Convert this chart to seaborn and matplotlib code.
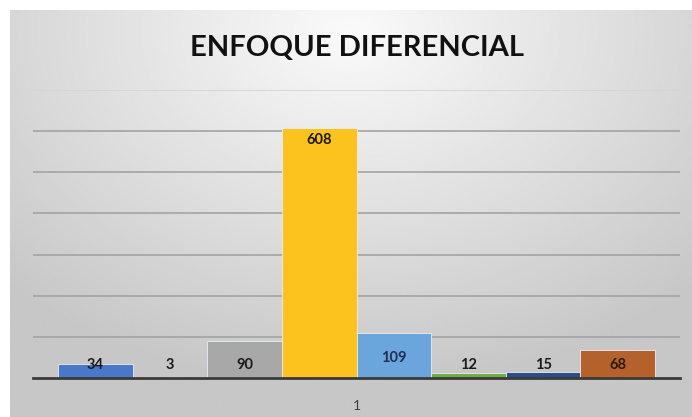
import numpy as np
import pandas as pd
import matplotlib.pyplot as plt
import seaborn as sns

# chart data
series = ['Serie 1', 'Serie 2', 'Serie 3', 'Serie 4', 'Serie 5', 'Serie 6', 'Serie 7', 'Serie 8']
values = [34, 3, 90, 608, 109, 12, 15, 68]
category = '1'
colors = ['#4a78c8', '#ED7D31', '#A8A8A8', '#FCC21E', '#6aa5dc', '#70AD47', '#2f4d85', '#B5612B']
label_colors = ['#1a1a1a', '#1a1a1a', '#1a1a1a', '#1a1a1a', '#1f2f55', '#1a1a1a', '#1a1a1a', '#2a1a10']

df = pd.DataFrame({'cat': [category] * len(values), 'serie': series, 'valor': values})

sns.set_style('white')
plt.rcParams['font.family'] = ['Lato', 'DejaVu Sans']

fig = plt.figure(figsize=(6.92, 4.17), dpi=100)
fig.patch.set_facecolor('white')

# gray radial gradient behind the chart (Excel style)
bg = fig.add_axes([10 / 692, 0, 1 - 10 / 692, 1 - 10 / 417])
yy, xx = np.mgrid[0:1:200j, 0:1:300j]
r = np.sqrt(((xx - 0.5) / 0.9) ** 2 + ((yy - 0.05) / 1.1) ** 2)
shade = np.clip(0.98 - 0.25 * r, 0.78, 0.98)
bg.imshow(shade, cmap='gray', vmin=0, vmax=1, aspect='auto', extent=[0, 1, 1, 0])
bg.set_axis_off()

ax = fig.add_axes([33 / 692, 39 / 417, (680 - 33) / 692, (378 - 90) / 417])
ax.set_facecolor('none')
sns.barplot(data=df, x='cat', y='valor', hue='serie', hue_order=series,
            palette=colors, saturation=1, width=597 / 647, ax=ax, legend=False,
            edgecolor='#e8eef8', linewidth=0.6, zorder=3)

ax.set_xlim(-0.5, 0.5)
ax.set_ylim(0, 700)
ax.set_yticks(range(100, 701, 100))
ax.yaxis.grid(True, color='#a3a3a3', linewidth=1.2, zorder=0)
ax.get_ygridlines()[-1].set_color('#d4d4d4')
ax.set_axisbelow(True)
for s in ['top', 'right', 'left']:
    ax.spines[s].set_visible(False)
ax.spines['bottom'].set_color('#3a3a3a')
ax.spines['bottom'].set_linewidth(2)
ax.spines['bottom'].set_zorder(5)
ax.tick_params(axis='y', left=False, labelleft=False)
ax.tick_params(axis='x', bottom=False, labelsize=10, labelcolor='#404040', pad=12)
ax.set_xlabel('')
ax.set_ylabel('')

# data labels
for bar, v, c in zip(ax.patches, values, label_colors):
    ypos = v - 29 if v > 150 else max(32, v - 60)
    ax.text(bar.get_x() + bar.get_width() / 2, ypos, str(v), ha='center', va='center',
            fontsize=10.5, fontweight='bold', color=c, zorder=6)

fig.text(357 / 692, 1 - 48 / 417, 'ENFOQUE DIFERENCIAL', ha='center', va='center',
         fontsize=21, fontweight='bold', color='#111111')

fig.savefig('out.png', dpi=100)
